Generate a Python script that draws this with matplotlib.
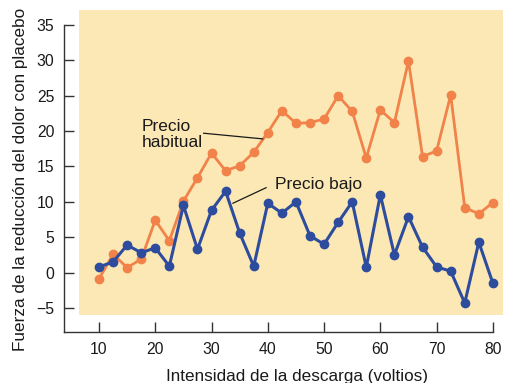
import matplotlib
matplotlib.use("Agg")
import matplotlib.pyplot as plt
from matplotlib.patches import Rectangle

plt.rcParams['font.family'] = ['Liberation Sans', 'DejaVu Sans']

# Shock intensity (volts)
voltage = [10, 12.5, 15, 17.5, 20, 22.5, 25, 27.5, 30, 32.5, 35, 37.5, 40, 42.5,
           45, 47.5, 50, 52.5, 55, 57.5, 60, 62.5, 65, 67.5, 70, 72.5, 75, 77.5, 80]

# Pain reduction, regular-price placebo
regular_price = [-0.9, 2.6, 0.7, 1.9, 7.4, 4.5, 10.1, 13.4, 16.9, 14.4, 15.1, 17.0, 19.8, 22.9,
                 21.1, 21.2, 21.7, 25.0, 22.8, 16.2, 23.0, 21.2, 29.9, 16.4, 17.2, 25.1, 9.2, 8.3, 9.9]

# Pain reduction, discounted placebo
low_price = [0.8, 1.5, 3.9, 2.8, 3.5, 0.9, 9.5, 3.3, 8.8, 11.5, 5.6, 0.9, 9.8, 8.4,
             10.0, 5.2, 4.0, 7.1, 10.0, 0.75, 11.0, 2.5, 7.9, 3.6, 0.8, 0.2, -4.3, 4.3, -1.5]

x_ticks = [10, 20, 30, 40, 50, 60, 70, 80]
y_ticks = [-5, 0, 5, 10, 15, 20, 25, 30, 35]

ORANGE = '#F0824A'
BLUE = '#2D4C9E'
PANEL = '#FCE8B4'
INK = '#1a1a1a'

W, H = 506, 383
fig = plt.figure(figsize=(W / 100, H / 100), dpi=100)
ax = fig.add_axes([64 / W, 1 - 332 / H, (503 - 64) / W, (332 - 10) / H])
ax.set_facecolor('none')

ax.set_xlim(3.78, 81.8)
ax.set_ylim(-8.4, 37.12)

# shaded panel behind the data
ax.add_patch(Rectangle((6.45, -6.0), 81.8 - 6.45, 37.12 + 6.0,
                       facecolor=PANEL, edgecolor='none', zorder=0, clip_on=False))

ax.plot(voltage, regular_price, color=ORANGE, lw=2.0, marker='o', ms=6, zorder=3)
ax.plot(voltage, low_price, color=BLUE, lw=2.2, marker='o', ms=6, zorder=4)

# series labels with leader lines
ax.text(17.6, 19.5, 'Precio\nhabitual', fontsize=12.5, va='center', ha='left',
        color=INK, linespacing=1.05)
ax.plot([28.6, 39.1], [19.7, 18.9], color=INK, lw=0.9, zorder=5)
ax.text(41.2, 12.5, 'Precio bajo', fontsize=12.5, va='center', ha='left', color=INK)
ax.plot([39.7, 33.8], [12.0, 9.8], color=INK, lw=0.9, zorder=5)

for s in ('top', 'right'):
    ax.spines[s].set_visible(False)
ax.spines['left'].set_bounds(-8.4, 35)
ax.spines['bottom'].set_bounds(3.78, 80)
for s in ('left', 'bottom'):
    ax.spines[s].set_color('#333333')
    ax.spines[s].set_linewidth(1.0)

ax.set_xticks(x_ticks)
ax.set_yticks(y_ticks)
ax.set_yticklabels(['\u22125' if v < 0 else str(v) for v in y_ticks])
ax.tick_params(direction='in', length=7, width=1.0, color='#333333',
               labelsize=11.3, labelcolor=INK, pad=7)

ax.set_xlabel('Intensidad de la descarga (voltios)', fontsize=12.3, color=INK)
ax.set_ylabel('Fuerza de la reducción del dolor con placebo', fontsize=12.3, color=INK)
ax.xaxis.set_label_coords(0.531, -0.115)
ax.yaxis.set_label_coords(-0.100, 0.475)
ax.yaxis.label.set_va('center')
ax.xaxis.label.set_va('top')

fig.savefig('out.png', dpi=100)
